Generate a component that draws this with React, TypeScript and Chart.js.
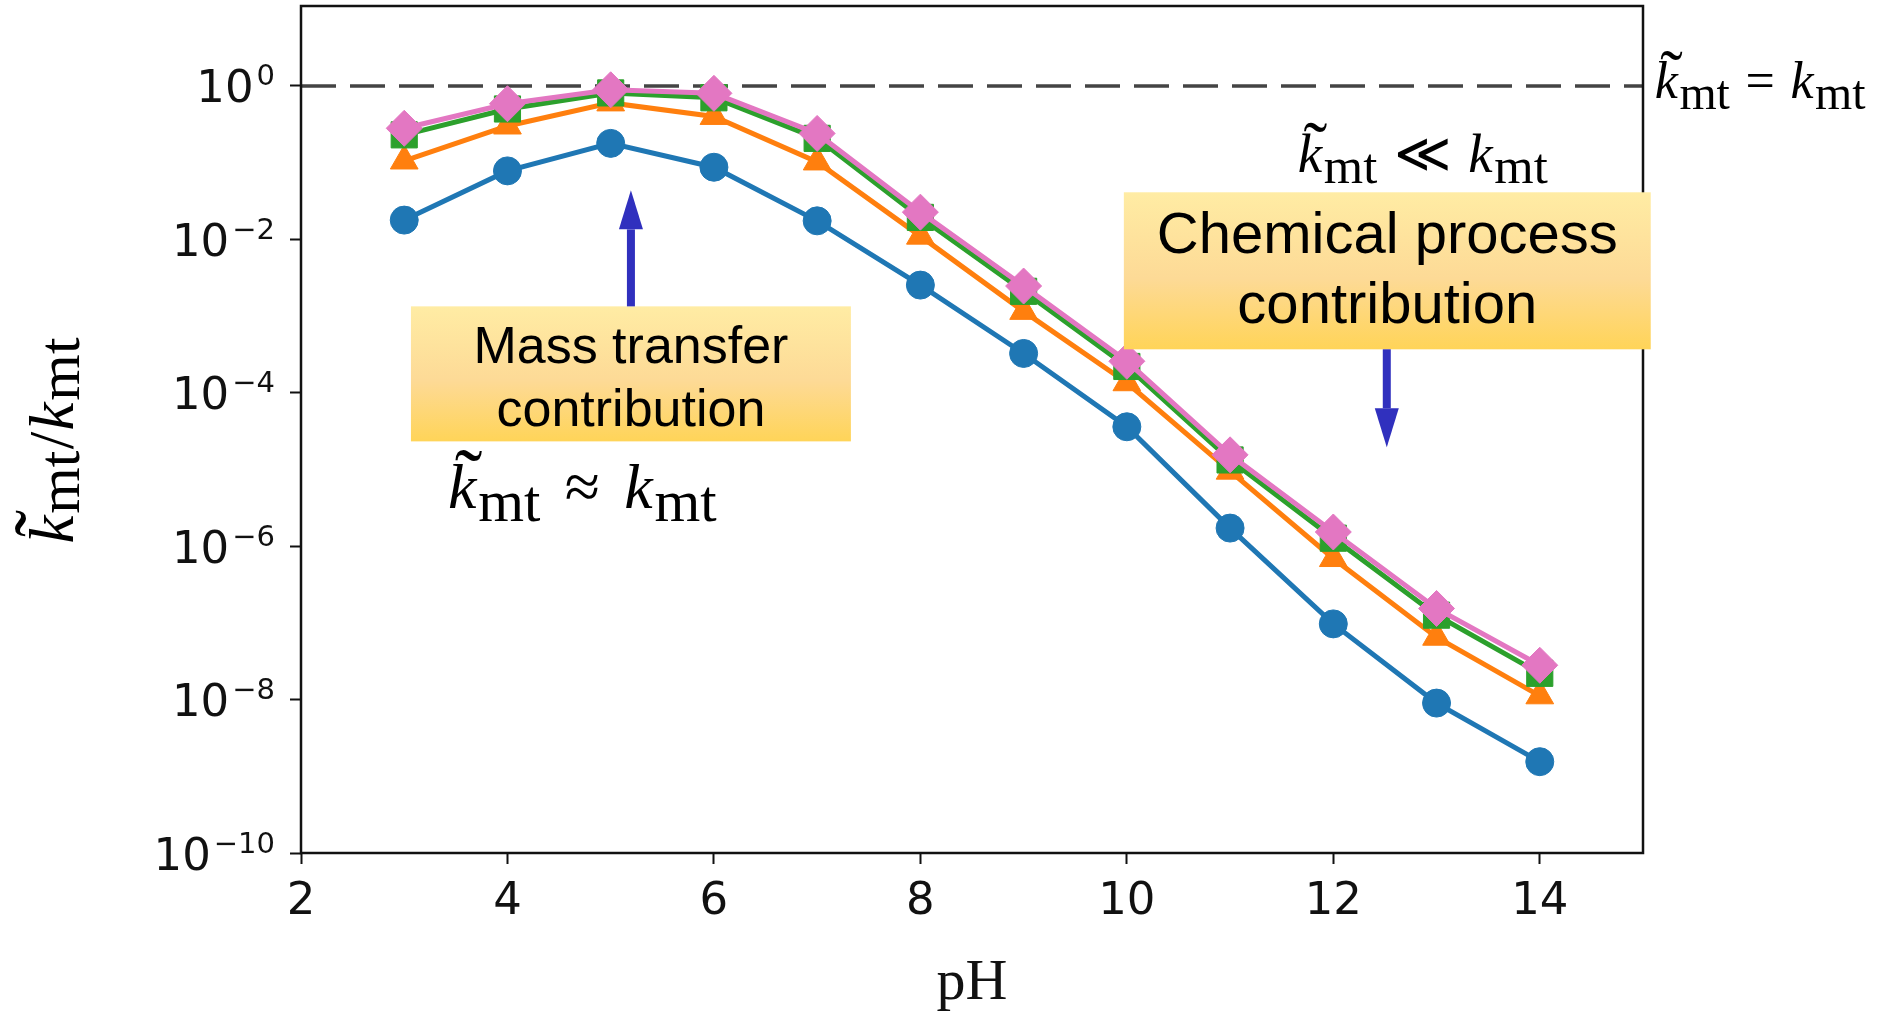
import React, { useEffect, useRef } from "react";
import { Chart, registerables } from "chart.js";

Chart.register(...registerables);

// ---------- data ----------
const pHValues = [3, 4, 5, 6, 7, 8, 9, 10, 11, 12, 13, 14];
const seriesCircle = [1.78e-2, 7.8e-2, 1.78e-1, 8.7e-2, 1.74e-2, 2.53e-3, 3.25e-4, 3.6e-5, 1.72e-6, 9.7e-8, 9.0e-9, 1.55e-9];
const seriesTriangle = [1.05e-1, 3.0e-1, 6.0e-1, 4.0e-1, 1.02e-1, 1.1e-2, 1.15e-3, 1.35e-4, 9.5e-6, 6.9e-7, 6.5e-8, 1.12e-8];
const seriesSquare = [2.3e-1, 5.0e-1, 8.1e-1, 7.0e-1, 2.07e-1, 1.93e-2, 2.1e-3, 2.2e-4, 1.33e-5, 1.27e-6, 1.26e-7, 2.2e-8];
const seriesDiamond = [2.8e-1, 5.85e-1, 8.9e-1, 8.0e-1, 2.4e-1, 2.26e-2, 2.46e-3, 2.57e-4, 1.55e-5, 1.53e-6, 1.54e-7, 2.8e-8];
const referenceX = [2, 15];
const referenceY = [1, 1];
const xTickValues = [2, 4, 6, 8, 10, 12, 14];
const yTickValues = [1e-10, 1e-8, 1e-6, 1e-4, 1e-2, 1];
const xRange = [2, 15];
const yRange = [1e-10, 11];

const xTitle = "pH";
const massLines = ["Mass transfer", "contribution"];
const chemLines = ["Chemical process", "contribution"];

// ---------- styles ----------
const SERIF = '"Liberation Serif", "DejaVu Serif", serif';
const SANS = '"DejaVu Sans", sans-serif';
const ARIAL = '"Liberation Sans", Arial, sans-serif';
const ARROW = "#3030BE";

function mathLabel(
  ctx: CanvasRenderingContext2D, x: number, base: number, size: number,
  op: string, gap: number, subScale = 0.92, dropScale = 0.2, draw = true
): number {
  const subSize = size * subScale;
  const drop = size * dropScale;
  let cx = x;
  const seg = (txt: string, font: string, dy: number) => {
    ctx.font = font;
    const w = ctx.measureText(txt).width;
    if (draw) ctx.fillText(txt, cx, base + dy);
    cx += w;
    return w;
  };
  const k0 = cx;
  const kw = seg("k", `italic ${size}px ${SERIF}`, 0);
  if (draw) {
    ctx.font = `${size * 1.3}px ${SERIF}`;
    const tw = ctx.measureText("\u02DC").width;
    ctx.fillText("\u02DC", k0 + (kw - tw) / 2 + size * 0.1, base - size * 0.03);
  }
  cx += size * 0.03;
  seg("mt", `${subSize}px ${SERIF}`, drop);
  cx += gap * size;
  seg(op, `${size}px ${SERIF}`, 0);
  cx += gap * size;
  seg("k", `italic ${size}px ${SERIF}`, 0);
  cx += size * 0.03;
  seg("mt", `${subSize}px ${SERIF}`, drop);
  return cx - x;
}

const annotationPlugin = {
  id: "annotations",
  afterDraw(chart: any) {
    const ctx: CanvasRenderingContext2D = chart.ctx;
    const xs = chart.scales.x;
    const ys = chart.scales.y;
    const ca = chart.chartArea;
    const px = (v: number) => xs.getPixelForValue(v);
    const py = (e: number) => ys.getPixelForValue(Math.pow(10, e));
    ctx.save();

    // frame
    ctx.strokeStyle = "#111";
    ctx.lineWidth = 2.5;
    ctx.strokeRect(ca.left, ca.top, ca.right - ca.left, ca.bottom - ca.top);

    // y tick labels 10^n (positions from the log scale's ticks)
    ctx.fillStyle = "#111";
    ctx.textBaseline = "alphabetic";
    const rightEdge = ca.left - 26;
    for (const t of ys.ticks) {
      const y = ys.getPixelForValue(t.value);
      const e = Math.round(Math.log10(t.value));
      const expTxt = e < 0 ? "\u2212" + String(-e) : String(e);
      ctx.font = `29px ${SANS}`;
      const ew = ctx.measureText(expTxt).width;
      ctx.textAlign = "left";
      ctx.fillText(expTxt, rightEdge - ew, y - 0.5);
      ctx.font = `45px ${SANS}`;
      ctx.textAlign = "right";
      ctx.fillText("10", rightEdge - ew - 3, y + 16.5);
    }

    const box = (x1: number, y1: number, x2: number, y2: number) => {
      const g = ctx.createLinearGradient(0, y1, 0, y2);
      g.addColorStop(0, "#FFECA4");
      g.addColorStop(0.55, "#FDDA96");
      g.addColorStop(1, "#FFD458");
      ctx.fillStyle = g;
      ctx.fillRect(x1, y1, x2 - x1, y2 - y1);
    };
    const arrow = (x: number, yFrom: number, yTip: number) => {
      const dir = Math.sign(yTip - yFrom);
      const headLen = 39;
      const headHalf = 12;
      const yBase = yTip - dir * headLen;
      ctx.fillStyle = ARROW;
      ctx.fillRect(x - 4, Math.min(yFrom, yBase), 8, Math.abs(yBase - yFrom));
      ctx.beginPath();
      ctx.moveTo(x, yTip);
      ctx.lineTo(x - headHalf, yBase);
      ctx.lineTo(x + headHalf, yBase);
      ctx.closePath();
      ctx.fill();
    };

    // Mass transfer box
    const mx1 = px(3.065), mx2 = px(7.327), my1 = py(-2.874), my2 = py(-4.634);
    box(mx1, my1, mx2, my2);
    ctx.fillStyle = "#000";
    ctx.textAlign = "center";
    ctx.textBaseline = "middle";
    ctx.font = `52px ${ARIAL}`;
    ctx.fillText(massLines[0], px(5.196), py(-3.421));
    ctx.fillText(massLines[1], px(5.196), py(-4.242));
    arrow(px(5.196), my1, py(-1.362));

    // Chemical process box
    const cx1 = px(9.971), cx2 = px(15.075), cy1 = py(-1.387), cy2 = py(-3.434);
    box(cx1, cy1, cx2, cy2);
    ctx.fillStyle = "#000";
    ctx.font = `58px ${ARIAL}`;
    ctx.fillText(chemLines[0], px(12.523), py(-1.974));
    ctx.fillText(chemLines[1], px(12.523), py(-2.887));
    arrow(px(12.518), cy2, py(-4.712));

    // math labels
    ctx.fillStyle = "#000";
    ctx.textAlign = "left";
    ctx.textBaseline = "alphabetic";
    mathLabel(ctx, px(15.114), py(-0.162), 52, "=", 0.3);
    mathLabel(ctx, px(11.656), py(-1.129), 55, "\u226A", 0.3);
    mathLabel(ctx, px(3.424), py(-5.508), 64, "\u2248", 0.38);

    // y-axis title (rotated)
    ctx.save();
    ctx.translate(ca.left - 228, (ca.top + ca.bottom) / 2 + 11);
    ctx.rotate(-Math.PI / 2);
    const w = mathLabel(ctx, 0, 0, 63, "/", 0.02, 0.95, 0.1, false);
    mathLabel(ctx, -w / 2, 0, 63, "/", 0.02, 0.95, 0.1);
    ctx.restore();

    ctx.restore();
  },
};

export default function App() {
  const ref = useRef<HTMLCanvasElement | null>(null);
  useEffect(() => {
    if (!ref.current) return;
    const pts = (arr: number[]) => pHValues.map((p, i) => ({ x: p, y: arr[i] }));
    const line = (label: string, arr: number[], color: string, style: string, radius: number, order: number) => ({
      label,
      data: pts(arr),
      borderColor: color,
      backgroundColor: color,
      borderWidth: 5,
      pointStyle: style,
      pointRadius: radius,
      pointBorderWidth: 1,
      pointBorderColor: color,
      pointBackgroundColor: color,
      order,
      tension: 0,
    });
    const chart = new Chart(ref.current, {
      type: "line",
      data: {
        datasets: [
          line("diamond", seriesDiamond, "#e377c2", "rectRot", 18, 1),
          line("square", seriesSquare, "#2ca02c", "rect", 18.5, 2),
          line("triangle", seriesTriangle, "#ff7f0e", "triangle", 16, 3),
          line("circle", seriesCircle, "#1f77b4", "circle", 14, 4),
          {
            label: "reference",
            data: referenceX.map((x, i) => ({ x, y: referenceY[i] })),
            borderColor: "#444444",
            borderWidth: 3.5,
            borderDash: [35, 14],
            pointRadius: 0,
            order: 5,
          } as any,
        ],
      },
      options: {
        animation: false,
        responsive: false,
        devicePixelRatio: 1,
        layout: { autoPadding: false, padding: { left: 0, right: 247, top: 6, bottom: 0 } },
        plugins: { legend: { display: false }, tooltip: { enabled: false } },
        scales: {
          x: {
            type: "linear",
            min: xRange[0],
            max: xRange[1],
            afterBuildTicks: (s: any) => { s.ticks = xTickValues.map((v) => ({ value: v })); },
            afterFit: (s: any) => { s.height = 168; s.paddingLeft = 0; s.paddingRight = 0; },
            ticks: { font: { family: SANS, size: 45 }, color: "#111", padding: 11, maxRotation: 0, autoSkip: false },
            grid: { display: true, drawOnChartArea: false, drawTicks: true, tickLength: 11, tickWidth: 2, tickColor: "#111" },
            border: { display: false },
            title: { display: true, text: xTitle, font: { family: SERIF, size: 58 }, color: "#111", padding: { top: 0, bottom: 2 } },
          },
          y: {
            type: "logarithmic",
            min: yRange[0],
            max: yRange[1],
            afterBuildTicks: (s: any) => { s.ticks = yTickValues.map((v) => ({ value: v })); },
            afterFit: (s: any) => { s.width = 301; s.paddingTop = 0; s.paddingBottom = 0; },
            ticks: { display: false, autoSkip: false },
            grid: { display: true, drawOnChartArea: false, drawTicks: true, tickLength: 11, tickWidth: 2, tickColor: "#111" },
            border: { display: false },
          },
        },
      } as any,
      plugins: [annotationPlugin],
    });
    return () => chart.destroy();
  }, []);
  return (
    <div style={{ position: "fixed", left: 0, top: 0, width: "1890px", height: "1021px", background: "#fff" }}>
      <canvas ref={ref} width={1890} height={1021} style={{ width: "1890px", height: "1021px" }} />
    </div>
  );
}
